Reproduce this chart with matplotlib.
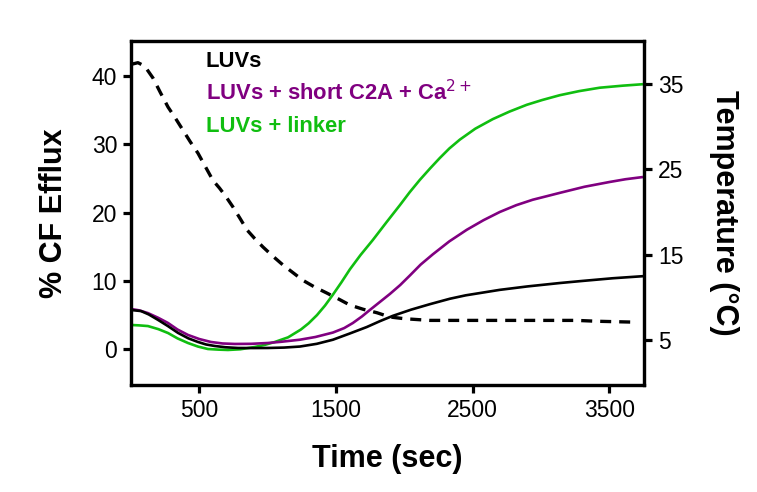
import matplotlib
matplotlib.use("Agg")
import matplotlib.pyplot as plt

plt.rcParams['font.family'] = ['Liberation Sans', 'DejaVu Sans']

# Temperature (right axis), dashed
temp_t = [0, 51, 100, 161, 215, 271, 325, 380, 435, 490, 545, 600, 648, 695, 746,
          800, 849, 905, 966, 1040, 1112, 1185, 1258, 1345, 1434, 1520, 1602, 1700,
          1800, 1895, 2000, 2187, 2350, 2553, 2919, 3263, 3409, 3672]
temp_v = [37.3, 37.5, 37.1, 35.7, 34.0, 32.3, 31.0, 29.6, 28.2, 26.9, 25.3, 23.7,
          22.8, 21.8, 20.6, 19.2, 17.9, 16.9, 15.9, 14.8, 13.8, 12.9, 12.0, 11.2,
          10.5, 9.8, 9.1, 8.6, 8.2, 7.7, 7.5, 7.3, 7.3, 7.3, 7.3, 7.3, 7.2, 7.1]

# LUVs (black)
luv_t = [0, 73, 130, 198, 270, 344, 420, 490, 550, 614, 690, 783, 900, 1002, 1120,
         1236, 1360, 1478, 1600, 1726, 1820, 1917, 2050, 2187, 2334, 2450, 2699,
         2900, 3138, 3300, 3526, 3745]
luv_v = [5.75, 5.6, 5.1, 4.3, 3.4, 2.4, 1.6, 1.07, 0.7, 0.48, 0.3, 0.19, 0.18, 0.19,
         0.25, 0.4, 0.8, 1.4, 2.3, 3.26, 4.1, 4.9, 5.8, 6.6, 7.4, 7.9, 8.7, 9.2,
         9.7, 10.0, 10.4, 10.7]

# LUVs + short C2A + Ca2+ (purple)
c2a_t = [0, 60, 124, 200, 271, 340, 417, 500, 585, 670, 761, 880, 1002, 1100, 1236,
         1350, 1478, 1560, 1624, 1690, 1748, 1820, 1895, 1970, 2041, 2120, 2209,
         2330, 2458, 2580, 2699, 2820, 2941, 3040, 3138, 3320, 3504, 3620, 3738]
c2a_v = [5.9, 5.7, 5.3, 4.6, 3.85, 2.9, 2.1, 1.5, 1.07, 0.85, 0.78, 0.8, 0.92, 1.1,
         1.4, 1.8, 2.45, 3.1, 3.85, 4.8, 5.75, 6.9, 8.1, 9.4, 10.8, 12.4, 13.9,
         15.8, 17.5, 18.9, 20.1, 21.1, 21.9, 22.4, 22.9, 23.8, 24.5, 24.9, 25.2]

# LUVs + linker (green)
lnk_t = [0, 60, 124, 200, 271, 340, 417, 490, 563, 640, 710, 800, 907, 980, 1053,
         1150, 1244, 1300, 1361, 1420, 1478, 1540, 1602, 1680, 1770, 1870, 1968,
         2040, 2114, 2190, 2260, 2330, 2407, 2520, 2648, 2770, 2897, 3010, 3138,
         3280, 3431, 3600, 3738]
lnk_v = [3.56, 3.5, 3.4, 2.95, 2.38, 1.6, 0.92, 0.4, 0.04, -0.05, -0.1, 0.0, 0.34,
         0.65, 1.07, 1.75, 2.9, 3.8, 5.0, 6.4, 8.0, 9.8, 11.7, 13.8, 16.0, 18.6,
         21.1, 23.0, 24.8, 26.5, 28.0, 29.4, 30.7, 32.3, 33.7, 34.8, 35.8, 36.5,
         37.2, 37.8, 38.3, 38.6, 38.8]

labels = ["LUVs", "LUVs + short C2A + Ca$^{2+}$", "LUVs + linker"]
colors = ["black", "#800080", "#10BE10"]

x_ticks = [500, 1500, 2500, 3500]
left_ticks = [0, 10, 20, 30, 40]
right_ticks = [5, 15, 25, 35]

fig = plt.figure(figsize=(7.57, 4.92), dpi=100)
ax = fig.add_axes([131/757, 1-385/492, (644-131)/757, (385-41)/492])
ax2 = ax.twinx()

ax.plot(luv_t, luv_v, color=colors[0], lw=1.9, zorder=3)
ax.plot(lnk_t, lnk_v, color=colors[2], lw=1.9, zorder=2)
ax.plot(c2a_t, c2a_v, color=colors[1], lw=1.9, zorder=2)
ax2.plot(temp_t, temp_v, color='black', lw=2.4, dashes=(3.3, 2.4))

ax.set_xlim(0, 3755)
ax.set_ylim(-5.23, 45.14)
ax2.set_ylim(-0.27, 40.04)
ax.set_xticks(x_ticks)
ax.set_yticks(left_ticks)
ax2.set_yticks(right_ticks)

for a in (ax, ax2):
    for s in a.spines.values():
        s.set_linewidth(2.3)
    a.tick_params(width=2.3, length=6, labelsize=16.5, direction='out', pad=4)

ax.set_xlabel("Time (sec)", fontsize=22, fontweight='bold', labelpad=16)
ax.set_ylabel("% CF Efflux", fontsize=22, fontweight='bold', labelpad=16)
ax2.set_ylabel("Temperature (\u00b0C)", fontsize=22, fontweight='bold',
               rotation=270, labelpad=40)

ys = [0.939, 0.849, 0.750]
for lab, c, y in zip(labels, colors, ys):
    ax.text(0.146, y, lab, transform=ax.transAxes, color=c, fontsize=15.8,
            fontweight='bold', va='center', ha='left')

fig.savefig("out.png", dpi=100)
